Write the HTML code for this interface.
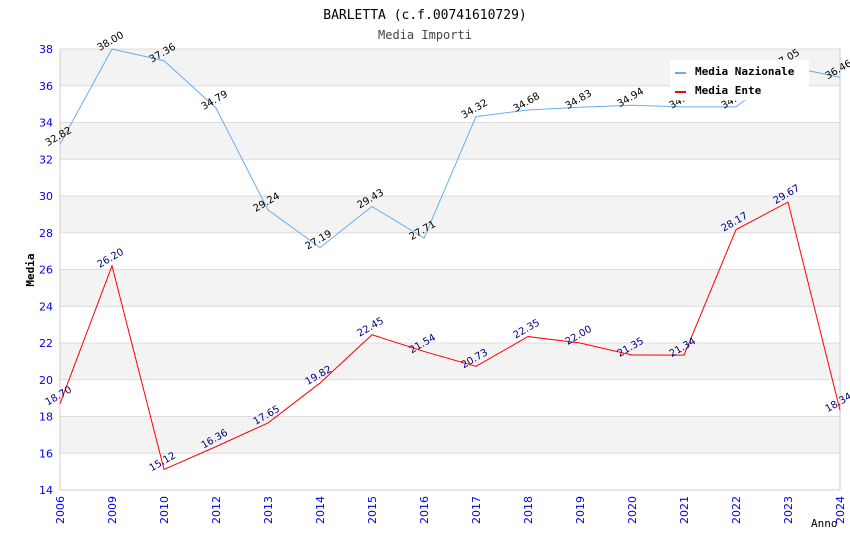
<!DOCTYPE html>
<html><head><meta charset="utf-8"><style>
html,body{margin:0;padding:0;background:#fff;}
svg{display:block;font-family:"DejaVu Sans Mono","Liberation Mono",monospace;}
</style></head><body>
<svg id="chart" width="850" height="550">
<text x="425" y="19" text-anchor="middle" font-size="13">BARLETTA (c.f.00741610729)</text>
<text x="425" y="39" text-anchor="middle" font-size="12" fill="#444">Media Importi</text>
<g id="bands"></g><g id="grid"></g><g id="axes"></g><g id="series"></g><g id="labels"></g>
<text x="34" y="270" transform="rotate(-90 34 270)" text-anchor="middle" font-size="11" font-weight="bold">Media</text>
<text x="811" y="527" font-size="11">Anno</text>
<g>
<rect x="670" y="60" width="139" height="40" fill="#fff"/>
<line x1="675" y1="73" x2="686" y2="73" stroke="#6aaef0" stroke-width="2"/>
<text x="695" y="75" font-size="11" font-weight="bold">Media Nazionale</text>
<line x1="675" y1="92" x2="686" y2="92" stroke="#ff0000" stroke-width="2"/>
<text x="695" y="94" font-size="11" font-weight="bold">Media Ente</text>
</g>
</svg>
<script>
const categories=["2006","2009","2010","2012","2013","2014","2015","2016","2017","2018","2019","2020","2021","2022","2023","2024"];
const nazionale=[32.82,38.00,37.36,34.79,29.24,27.19,29.43,27.71,34.32,34.68,34.83,34.94,34.85,34.85,37.05,36.46];
const ente=[18.70,26.20,15.12,16.36,17.65,19.82,22.45,21.54,20.73,22.35,22.00,21.35,21.34,28.17,29.67,18.34];
const yTicks=[14,16,18,20,22,24,26,28,30,32,34,36,38];
const NS="http://www.w3.org/2000/svg";
const L=60,R=840,T=49,B=490,yMin=14,yMax=38;
const x=i=>L+i*(R-L)/(categories.length-1);
const y=v=>B-(v-yMin)*(B-T)/(yMax-yMin);
function mk(tag,attrs,parent,txt){const e=document.createElementNS(NS,tag);for(const k in attrs)e.setAttribute(k,attrs[k]);if(txt!==undefined)e.textContent=txt;document.getElementById(parent).appendChild(e);return e;}
for(let i=0;i<yTicks.length-1;i++){
 if(i%2===1){const r=mk("rect",{x:L,y:y(yTicks[i+1]),width:R-L,height:y(yTicks[i])-y(yTicks[i+1]),fill:"#f3f3f3"},"bands");
 
 }
}
yTicks.forEach(t=>{
 const l=mk("line",{x1:L,x2:R,y1:y(t),y2:y(t),stroke:"#dcdcdc"},"grid");
 
 
 const tx=mk("text",{x:L-7,y:y(t)+4,"text-anchor":"end","font-size":"11",fill:"#0000ee","font-family":"DejaVu Sans, Liberation Sans, sans-serif"},"axes",String(t));
 
 
});
mk("line",{x1:L,x2:L,y1:T,y2:B,stroke:"#ccc"},"axes");
mk("line",{x1:R,x2:R,y1:T,y2:B,stroke:"#ccc"},"axes");
mk("line",{x1:L,x2:R,y1:B,y2:B,stroke:"#ccc"},"axes");
categories.forEach((c,i)=>{
 const tx=mk("text",{x:x(i)+4,y:B+6,transform:`rotate(-90 ${x(i)+4} ${B+6})`,"text-anchor":"end","font-size":"11",fill:"#0000ee","font-family":"DejaVu Sans, Liberation Sans, sans-serif"},"axes",c);
 
 
});
function series(vals,color,lblColor,name){
 const p=mk("polyline",{points:vals.map((v,i)=>x(i)+","+y(v)).join(" "),fill:"none",stroke:color,"stroke-width":"1"},"series");
 
 
 vals.forEach((v,i)=>{
  const px=x(i),py=y(v)-5;
  const t=mk("text",{x:px,y:py,transform:`rotate(-30 ${px} ${py})`,"text-anchor":"middle","font-size":"10",fill:lblColor,"font-family":"DejaVu Sans, Liberation Sans, sans-serif"},"labels",v.toFixed(2));
  
  
 });
}
series(nazionale,"#6aaef0","#000","nazionale");
series(ente,"#ff0000","#000080","ente");
</script>
</body></html>
